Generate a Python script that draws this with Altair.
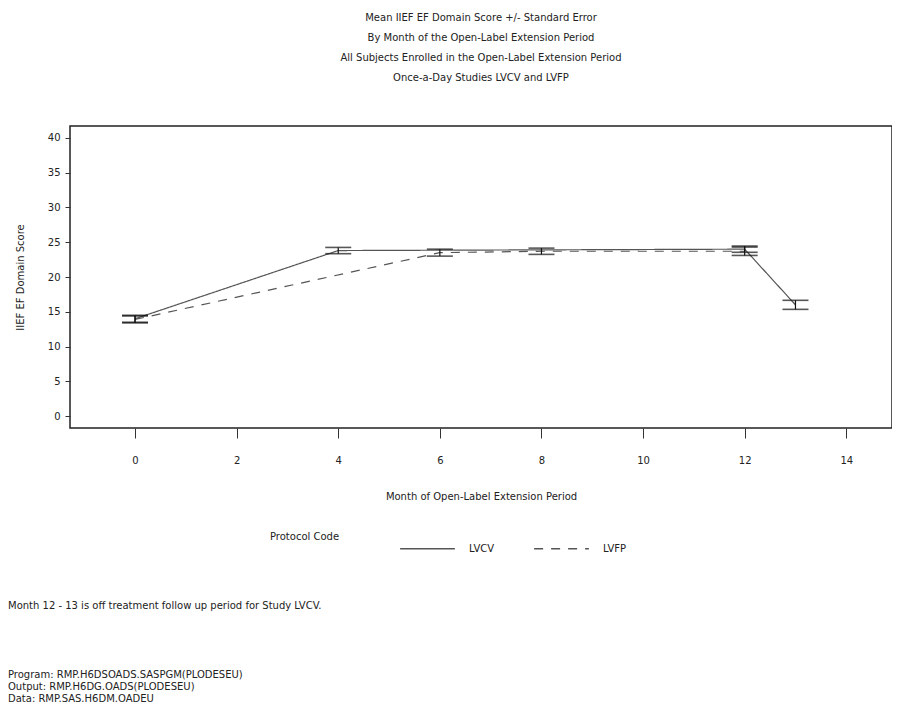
import altair as alt
import pandas as pd

# ---- data ----
protocols = ["LVCV", "LVCV", "LVCV", "LVCV", "LVFP", "LVFP", "LVFP", "LVFP"]
months    = [0, 4, 12, 13, 0, 6, 8, 12]
means     = [14.0, 23.8, 24.0, 16.0, 13.9, 23.5, 23.7, 23.7]
ses       = [0.5, 0.45, 0.45, 0.65, 0.5, 0.5, 0.45, 0.6]

title_lines = [
    "Mean IIEF EF Domain Score +/- Standard Error",
    "By Month of the Open-Label Extension Period",
    "All Subjects Enrolled in the Open-Label Extension Period",
    "Once-a-Day Studies LVCV and LVFP",
]
footnote = "Month 12 - 13 is off treatment follow up period for Study LVCV."
program_lines = [
    "Program: RMP.H6DSOADS.SASPGM(PLODESEU)",
    "Output:  RMP.H6DG.OADS(PLODESEU)",
    "Data:     RMP.SAS.H6DM.OADEU",
]

x_ticks = [0, 2, 4, 6, 8, 10, 12, 14]
y_ticks = [0, 5, 10, 15, 20, 25, 30, 35, 40]

FONT = "DejaVu Sans"

df = pd.DataFrame({
    "Protocol Code": protocols,
    "month": months,
    "mean": means,
    "lo": [m - s for m, s in zip(means, ses)],
    "hi": [m + s for m, s in zip(means, ses)],
})

xs = alt.Scale(domain=[-1.28, 14.9], nice=False, zero=False)
ys = alt.Scale(domain=[-1.7, 41.7], nice=False, zero=False)

x_axis = alt.Axis(values=x_ticks, title="Month of Open-Label Extension Period",
                  grid=False, domain=False, tickSize=10, tickColor="#333",
                  labelPadding=17, titlePadding=26, labelFontSize=10,
                  titleFontSize=10, titleFontWeight="normal",
                  labelFont=FONT, titleFont=FONT, labelColor="#222",
                  titleColor="#222")
y_axis = alt.Axis(values=y_ticks, title="IIEF EF Domain Score",
                  grid=False, domain=False, tickSize=5, tickColor="#333",
                  labelPadding=5, titlePadding=22, labelFontSize=10,
                  titleFontSize=10, titleFontWeight="normal",
                  labelFont=FONT, titleFont=FONT, labelColor="#222",
                  titleColor="#222")

base = alt.Chart(df)
xq = alt.X("month:Q", scale=xs, axis=x_axis)

lines = base.mark_line(color="#555", strokeWidth=1.2).encode(
    x=xq, y=alt.Y("mean:Q", scale=ys, axis=y_axis),
    strokeDash=alt.StrokeDash(
        "Protocol Code:N",
        scale=alt.Scale(domain=["LVCV", "LVFP"], range=[[1, 0], [9, 8]]),
        legend=alt.Legend(orient="none", legendX=200, legendY=394,
                          direction="horizontal", titleOrient="left",
                          titleFontSize=10, titleFontWeight="normal", titleFont=FONT,
                          titlePadding=59, labelFont=FONT, labelFontSize=10,
                          labelColor="#222", titleColor="#222",
                          symbolType="stroke", symbolSize=3000,
                          symbolStrokeColor="#555", symbolStrokeWidth=1.3,
                          columnPadding=36, labelOffset=13),
    ),
)

rules = base.mark_rule(color="#111", strokeWidth=1.2).encode(
    x=xq, y=alt.Y("lo:Q", scale=ys, axis=y_axis), y2="hi:Q")
cap_lo = base.mark_tick(color="#111", orient="horizontal", size=26,
                        thickness=1.6).encode(x=xq, y=alt.Y("lo:Q", scale=ys, axis=y_axis))
cap_hi = base.mark_tick(color="#111", orient="horizontal", size=26,
                        thickness=1.6).encode(x=xq, y=alt.Y("hi:Q", scale=ys, axis=y_axis))

foot_df = pd.DataFrame({"t": [footnote]})
foot = alt.Chart(foot_df).mark_text(align="left", baseline="middle", fontSize=10,
                                    font=FONT, color="#222").encode(
    text="t:N", x=alt.value(-62), y=alt.value(480))

prog_df = pd.DataFrame({"t": ["\n".join(program_lines)]})
prog = alt.Chart(prog_df).mark_text(align="left", baseline="top", fontSize=10,
                                    font=FONT, color="#222", lineBreak="\n",
                                    lineHeight=12).encode(
    text="t:N", x=alt.value(-62), y=alt.value(544))

chart = alt.layer(lines, rules, cap_lo, cap_hi, foot, prog).properties(
    width=822, height=302,
    padding={"left": 62, "top": 118, "right": 0, "bottom": 280},
    autosize=alt.AutoSizeParams(type="none"),
    background="white",
    title=alt.Title(title_lines, fontSize=10, fontWeight="normal", font=FONT,
                    color="#222", lineHeight=20, offset=43, anchor="middle"),
).configure_view(stroke="#222", strokeWidth=1.5)

chart.save("out.html", embed_options={"renderer": "svg", "actions": False})
